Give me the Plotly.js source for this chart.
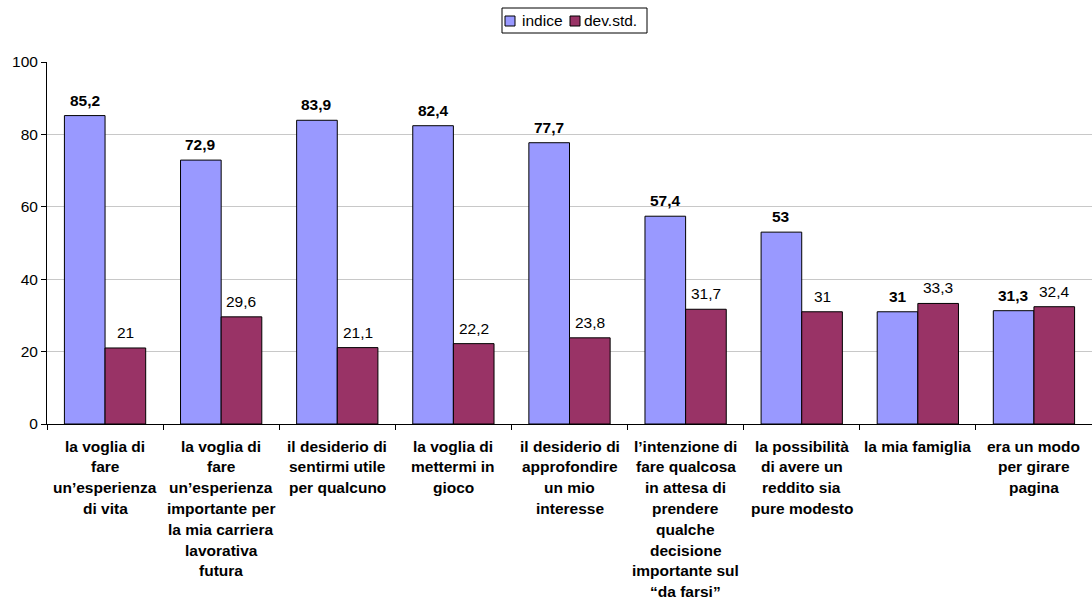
<!DOCTYPE html>
<html><head><meta charset="utf-8">
<script src="https://cdn.plot.ly/plotly-3.0.1.min.js"></script>
<style>html,body{margin:0;padding:0;background:#fff}</style>
</head><body><div id="chart" style="width:1092px;height:600px"></div>
<script>
const categories = [
  "la voglia di<br>fare<br>un’esperienza<br>di vita",
  "la voglia di<br>fare<br>un’esperienza<br>importante per<br>la mia carriera<br>lavorativa<br>futura",
  "il desiderio di<br>sentirmi utile<br>per qualcuno",
  "la voglia di<br>mettermi in<br>gioco",
  "il desiderio di<br>approfondire<br>un mio<br>interesse",
  "l’intenzione di<br>fare qualcosa<br>in attesa di<br>prendere<br>qualche<br>decisione<br>importante sul<br>“da farsi”",
  "la possibilità<br>di avere un<br>reddito sia<br>pure modesto",
  "la mia famiglia",
  "era un modo<br>per girare<br>pagina"
];
const indice = [85.2, 72.9, 83.9, 82.4, 77.7, 57.4, 53, 31, 31.3];
const devStd = [21, 29.6, 21.1, 22.2, 23.8, 31.7, 31, 33.3, 32.4];
const seriesNames = ["indice", "dev.std."];
const seriesColors = ["#9999FF", "#993366"];
const yTicks = [0, 20, 40, 60, 80, 100];

const FONT = "Liberation Sans, Arial, sans-serif";
const FS = 15.5;
const W = 1092, H = 600, M = {l:47, r:0, t:62, b:176};
const plotW = W - M.l - M.r, plotH = H - M.t - M.b;
const BARGAP = 0.3;
const halfBar = plotW / categories.length * (1 - BARGAP) / 4;
const fmt = v => String(v).replace(".", ",");

const traces = [
  {type:"bar", name:seriesNames[0], x:categories, y:indice,
   marker:{color:seriesColors[0], line:{color:"#000", width:1}}, hoverinfo:"skip"},
  {type:"bar", name:seriesNames[1], x:categories, y:devStd,
   marker:{color:seriesColors[1], line:{color:"#000", width:1}}, hoverinfo:"skip"}
];

const annotations = [];
// category labels (multi-line, bold)
categories.forEach(c => {
  c.split("<br>").forEach((line, i) => {
    annotations.push({x:c, y:0, xref:"x", yref:"y", text:"<b>"+line+"</b>",
      showarrow:false, yanchor:"middle", xanchor:"center", yshift:-22 - i*20.8,
      font:{family:FONT, size:FS, color:"#000"}});
  });
});
// value labels
categories.forEach((c, i) => {
  annotations.push({x:c, y:indice[i], xref:"x", yref:"y", text:"<b>"+fmt(indice[i])+"</b>",
    showarrow:false, yanchor:"bottom", xanchor:"center", xshift:-halfBar, yshift:5,
    font:{family:FONT, size:FS, color:"#000"}});
  annotations.push({x:c, y:devStd[i], xref:"x", yref:"y", text:fmt(devStd[i]),
    showarrow:false, yanchor:"bottom", xanchor:"center", xshift:halfBar, yshift:5,
    font:{family:FONT, size:FS, color:"#000"}});
});

// custom legend (pixel layout converted to paper coords)
const px = x => (x - M.l) / plotW;
const py = y => (H - M.b - y) / plotH;
const shapes = [
  {type:"rect", xref:"paper", yref:"paper", x0:px(502), x1:px(647), y0:py(33), y1:py(8),
   line:{color:"#000", width:1}, fillcolor:"#fff"}
];
const legItems = [{sw:505, tx:520}, {sw:570, tx:582}];
legItems.forEach((it, k) => {
  shapes.push({type:"rect", xref:"paper", yref:"paper", x0:px(it.sw), x1:px(it.sw+10),
    y0:py(26), y1:py(16), line:{color:"#000", width:1}, fillcolor:seriesColors[k]});
  annotations.push({xref:"paper", yref:"paper", x:px(it.tx), y:py(21), text:seriesNames[k],
    showarrow:false, xanchor:"left", yanchor:"middle", font:{family:FONT, size:FS, color:"#000"}});
});

const layout = {
  width:W, height:H, margin:M,
  paper_bgcolor:"#fff", plot_bgcolor:"#fff",
  separators:",.",
  barmode:"group", bargap:BARGAP, bargroupgap:0,
  font:{family:FONT, size:FS, color:"#000"},
  showlegend:false,
  xaxis:{type:"category", showticklabels:false, ticks:"outside", tickson:"boundaries",
    ticklen:5, tickcolor:"#000", showline:true, linecolor:"#000", linewidth:1,
    showgrid:false, fixedrange:true},
  yaxis:{range:[0,100], tickvals:yTicks, ticks:"outside", ticklen:5, tickcolor:"#000",
    showline:true, linecolor:"#000", linewidth:1, gridcolor:"#c8c8c8", gridwidth:1,
    zeroline:false, tickfont:{family:FONT, size:FS, color:"#000"}, fixedrange:true},
  annotations:annotations, shapes:shapes
};
Plotly.newPlot("chart", traces, layout, {displayModeBar:false, staticPlot:true});
</script></body></html>
